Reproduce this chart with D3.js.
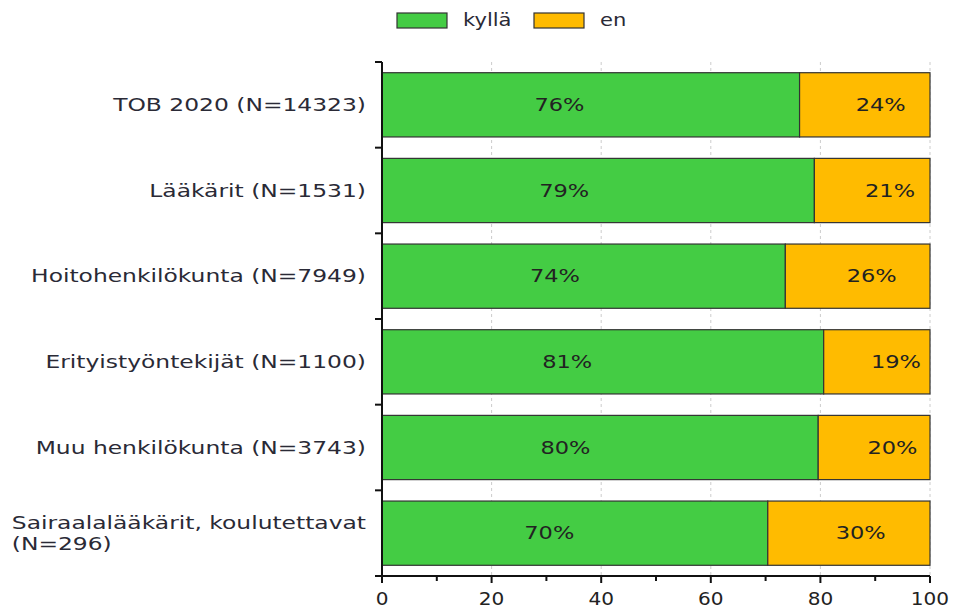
<!DOCTYPE html>
<html>
<head>
<meta charset="utf-8">
<script src="https://cdn.jsdelivr.net/npm/d3@7"></script>
<style>
  body { margin: 0; background: #fff; }
  text { font-family: "DejaVu Sans", Verdana, sans-serif; }
</style>
</head>
<body>
<div id="chart"></div>
<script>
// data
var groups = ["TOB 2020 (N=14323)", "Lääkärit (N=1531)", "Hoitohenkilökunta (N=7949)",
  "Erityistyöntekijät (N=1100)", "Muu henkilökunta (N=3743)", "Sairaalalääkärit, koulutettavat (N=296)"];
var labelLines = [["TOB 2020 (N=14323)"], ["Lääkärit (N=1531)"], ["Hoitohenkilökunta (N=7949)"],
  ["Erityistyöntekijät (N=1100)"], ["Muu henkilökunta (N=3743)"], ["Sairaalalääkärit, koulutettavat", "(N=296)"]];
var yesValues = [76.2, 78.9, 73.6, 80.6, 79.6, 70.4];
var yesLabels = ["76%", "79%", "74%", "81%", "80%", "70%"];
var noLabels = ["24%", "21%", "26%", "19%", "20%", "30%"];
var seriesNames = ["kyllä", "en"];
var xTicks = [0, 20, 40, 60, 80, 100];

var svgWidth = 955, svgHeight = 609;
var margin = { top: 62, right: 25, bottom: 33, left: 382 };
var width = svgWidth - margin.left - margin.right;
var height = svgHeight - margin.top - margin.bottom;

var colors = ["#44cc44", "#ffbb00"];

var svg = d3.select("#chart").append("svg")
  .attr("width", svgWidth)
  .attr("height", svgHeight);

var chartGroup = svg.append("g")
  .attr("transform", `translate(${margin.left}, ${margin.top})`);

var x = d3.scaleLinear().domain([0, 100]).range([0, width]);
var y = d3.scaleBand().domain(groups).range([0, height])
  .paddingInner(0.25).paddingOuter(0.125);

// stretched text helper (the original font is wider than DejaVu)
function stretched(sel, sx) {
  return sel.attr("transform", function() {
    var t = d3.select(this);
    return `translate(${t.attr("data-x")}, ${t.attr("data-y")}) scale(${sx}, 1)`;
  });
}

// dashed gridlines
chartGroup.selectAll(".grid")
  .data(xTicks.slice(1))
  .enter().append("line")
  .attr("x1", d => x(d)).attr("x2", d => x(d))
  .attr("y1", 0).attr("y2", height)
  .attr("stroke", "#cccccc")
  .attr("stroke-dasharray", "3,3");

var rows = groups.map((g, i) => ({ group: g, yes: yesValues[i], i: i }));

// green part
chartGroup.selectAll(".yes")
  .data(rows).enter().append("rect")
  .attr("x", x(0))
  .attr("y", d => y(d.group))
  .attr("width", d => x(d.yes) - x(0))
  .attr("height", y.bandwidth())
  .attr("fill", colors[0])
  .attr("stroke", "#333").attr("stroke-width", 1.2);

// orange part
chartGroup.selectAll(".no")
  .data(rows).enter().append("rect")
  .attr("x", d => x(d.yes))
  .attr("y", d => y(d.group))
  .attr("width", d => x(100) - x(d.yes))
  .attr("height", y.bandwidth())
  .attr("fill", colors[1])
  .attr("stroke", "#333").attr("stroke-width", 1.2);

// value labels (placement as in the original)
chartGroup.selectAll(".yesLabel")
  .data(rows).enter().append("text")
  .attr("data-x", d => x(8 + 0.32 * d.yes))
  .attr("data-y", d => y(d.group) + y.bandwidth() / 2 + 6)
  .attr("text-anchor", "middle")
  .style("font-size", "18px")
  .attr("fill", "#222")
  .text(d => yesLabels[d.i])
  .call(stretched, 1.25);

chartGroup.selectAll(".noLabel")
  .data(rows).enter().append("text")
  .attr("data-x", d => x(43 + 0.63 * d.yes))
  .attr("data-y", d => y(d.group) + y.bandwidth() / 2 + 6)
  .attr("text-anchor", "middle")
  .style("font-size", "18px")
  .attr("fill", "#222")
  .text(d => noLabels[d.i])
  .call(stretched, 1.25);

// left axis: line and ticks at band boundaries
chartGroup.append("line")
  .attr("x1", 0).attr("x2", 0).attr("y1", 0).attr("y2", height + 7)
  .attr("stroke", "#111").attr("stroke-width", 2);

var boundaries = groups.map(g => y(g) - y.step() * y.paddingInner() / 2);
boundaries.push(height);
chartGroup.selectAll(".ytick")
  .data(boundaries).enter().append("line")
  .attr("x1", -7).attr("x2", 0)
  .attr("y1", d => d).attr("y2", d => d)
  .attr("stroke", "#111").attr("stroke-width", 2);

// bottom axis
chartGroup.append("line")
  .attr("x1", 0).attr("x2", width).attr("y1", height).attr("y2", height)
  .attr("stroke", "#111").attr("stroke-width", 2);

var minorTicks = d3.range(10, 100, 20);
chartGroup.selectAll(".xminor")
  .data(minorTicks).enter().append("line")
  .attr("x1", d => x(d)).attr("x2", d => x(d))
  .attr("y1", height).attr("y2", height + 5)
  .attr("stroke", "#111").attr("stroke-width", 2);

chartGroup.selectAll(".xmajor")
  .data(xTicks).enter().append("line")
  .attr("x1", d => x(d)).attr("x2", d => x(d))
  .attr("y1", height).attr("y2", height + 7)
  .attr("stroke", "#111").attr("stroke-width", 2);

chartGroup.selectAll(".xlabel")
  .data(xTicks).enter().append("text")
  .attr("data-x", d => x(d))
  .attr("data-y", height + 29)
  .attr("text-anchor", "middle")
  .style("font-size", "17px")
  .attr("fill", "#222")
  .text(d => d)
  .call(stretched, 1.18);

// category labels
rows.forEach(function(d) {
  var lines = labelLines[d.i];
  var cy = y(d.group) + y.bandwidth() / 2;
  var lh = 21;
  var y0 = cy + 6 - (lines.length - 1) * lh / 2;
  var first = chartGroup.append("text")
    .attr("data-x", -16)
    .attr("data-y", y0)
    .attr("text-anchor", "end")
    .style("font-size", "18px")
    .attr("fill", "#2a2a36")
    .text(lines[0])
    .call(stretched, 1.3);
  if (lines.length > 1) {
    var left = -16 - first.node().getComputedTextLength() * 1.3;
    chartGroup.append("text")
      .attr("data-x", left)
      .attr("data-y", y0 + lh)
      .attr("text-anchor", "start")
      .style("font-size", "18px")
      .attr("fill", "#2a2a36")
      .text(lines[1])
      .call(stretched, 1.3);
  }
});

// legend
var legend = svg.append("g").attr("transform", "translate(397, 13)");
var legendX = [0, 137];
seriesNames.forEach(function(name, i) {
  legend.append("rect")
    .attr("x", legendX[i]).attr("y", 0)
    .attr("width", 50).attr("height", 15)
    .attr("fill", colors[i])
    .attr("stroke", "#333").attr("stroke-width", 1.2);
  legend.append("text")
    .attr("data-x", legendX[i] + 66)
    .attr("data-y", 13)
    .style("font-size", "18px")
    .attr("fill", "#2a2a36")
    .text(name)
    .call(stretched, 1.17);
});
</script>
</body>
</html>
